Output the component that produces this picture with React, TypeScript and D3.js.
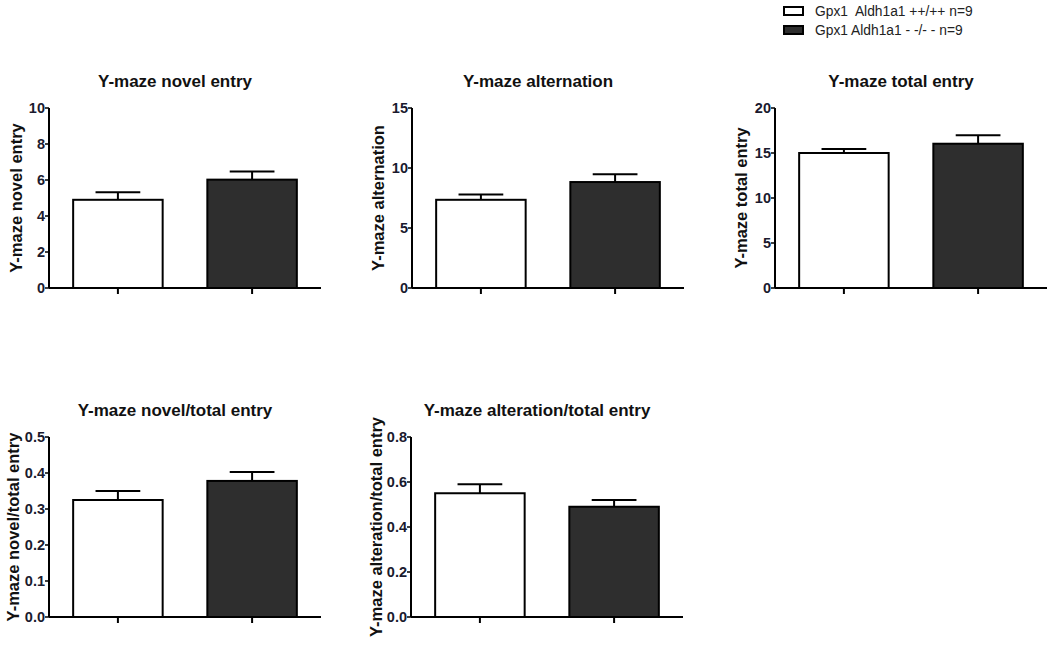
import React from "react";
import * as d3 from "d3";

const groups = ["Gpx1  Aldh1a1 ++/++ n=9", "Gpx1 Aldh1a1 - -/- - n=9"];
const groupFills = ["#ffffff", "#2e2e2e"];

const titles = [
  "Y-maze novel entry",
  "Y-maze alternation",
  "Y-maze total entry",
  "Y-maze novel/total entry",
  "Y-maze alteration/total entry",
];
const yLabels = [
  "Y-maze novel entry",
  "Y-maze alternation",
  "Y-maze total entry",
  "Y-maze novel/total entry",
  "Y-maze alteration/total entry",
];
const wildMeans = [4.9, 7.35, 15.0, 0.325, 0.55];
const wildErrs = [0.42, 0.45, 0.45, 0.025, 0.04];
const koMeans = [6.02, 8.83, 16.03, 0.378, 0.49];
const koErrs = [0.45, 0.65, 0.95, 0.025, 0.03];
const yMaxes = [10, 15, 20, 0.5, 0.8];
const yTicks = [
  [0, 2, 4, 6, 8, 10],
  [0, 5, 10, 15],
  [0, 5, 10, 15, 20],
  [0, 0.1, 0.2, 0.3, 0.4, 0.5],
  [0, 0.2, 0.4, 0.6, 0.8],
];
const tickDecimals = [0, 0, 0, 1, 1];

// layout
const panelAxisX = [49, 412, 775, 49, 411];
const panelTop = [108, 108, 108, 437, 437];
const panelLabelX = [16, 378, 741, 13, 376];
const plotW = 272;
const plotH = 180;

function Panel({ i }: { i: number }) {
  const x0 = panelAxisX[i];
  const top = panelTop[i];
  const bottom = top + plotH;
  const x = d3
    .scaleBand<string>()
    .domain(["wt", "ko"])
    .range([x0, x0 + plotW])
    .paddingInner(0.333)
    .paddingOuter(0.18);
  const y = d3.scaleLinear().domain([0, yMaxes[i]]).range([bottom, top]);
  const fmt = d3.format(`.${tickDecimals[i]}f`);
  const bars = [
    { key: "wt", v: wildMeans[i], e: wildErrs[i], fill: groupFills[0] },
    { key: "ko", v: koMeans[i], e: koErrs[i], fill: groupFills[1] },
  ];
  const bw = x.bandwidth();
  return (
    <g>
      <text
        x={x0 + plotW / 2 - 10}
        y={top - 21}
        textAnchor="middle"
        fontSize={17}
        fontWeight="bold"
        fill="#111"
      >
        {titles[i]}
      </text>
      <text
        transform={`translate(${panelLabelX[i]},${(top + bottom) / 2}) rotate(-90)`}
        textAnchor="middle"
        dominantBaseline="central"
        fontSize={16.5}
        fontWeight="bold"
        fill="#111"
      >
        {yLabels[i]}
      </text>
      {bars.map((b) => {
        const bx = x(b.key)!;
        const cx = bx + bw / 2;
        return (
          <g key={b.key}>
            <line x1={cx} x2={cx} y1={y(b.v)} y2={y(b.v + b.e)} stroke="#000" strokeWidth={2} />
            <line
              x1={cx - bw / 4}
              x2={cx + bw / 4}
              y1={y(b.v + b.e)}
              y2={y(b.v + b.e)}
              stroke="#000"
              strokeWidth={2}
            />
            <rect
              x={bx}
              y={y(b.v)}
              width={bw}
              height={bottom - y(b.v)}
              fill={b.fill}
              stroke="#000"
              strokeWidth={2}
            />
            <line x1={cx} x2={cx} y1={bottom} y2={bottom + 6} stroke="#000" strokeWidth={2} />
          </g>
        );
      })}
      <line x1={x0} x2={x0} y1={top} y2={bottom} stroke="#000" strokeWidth={2} />
      <line x1={x0} x2={x0 + plotW} y1={bottom} y2={bottom} stroke="#000" strokeWidth={2} />
      {yTicks[i].map((t) => (
        <g key={t}>
          <line x1={x0 - 4} x2={x0} y1={y(t)} y2={y(t)} stroke="#000" strokeWidth={1.5} />
          <text
            x={x0 - 4}
            y={y(t)}
            textAnchor="end"
            dominantBaseline="central"
            fontSize={14.5}
            fontWeight="bold"
            fill="#1a1a2e"
          >
            {fmt(t)}
          </text>
        </g>
      ))}
    </g>
  );
}

export default function App() {
  return (
    <svg
      width={1050}
      height={651}
      style={{ position: "absolute", left: 0, top: 0, background: "#fff" }}
      fontFamily="'Liberation Sans', Arial, sans-serif"
    >
      <rect x={0} y={0} width={1050} height={651} fill="#fff" />
      {titles.map((_, i) => (
        <Panel key={i} i={i} />
      ))}
      {groups.map((g, k) => (
        <g key={g}>
          <rect
            x={784}
            y={7 + k * 19}
            width={19}
            height={8}
            fill={groupFills[k]}
            stroke="#000"
            strokeWidth={2}
          />
          <text
            x={815}
            y={11 + k * 19}
            dominantBaseline="central"
            fontSize={13.8}
            fill="#222"
            style={{ whiteSpace: "pre" }}
          >
            {g}
          </text>
        </g>
      ))}
    </svg>
  );
}
